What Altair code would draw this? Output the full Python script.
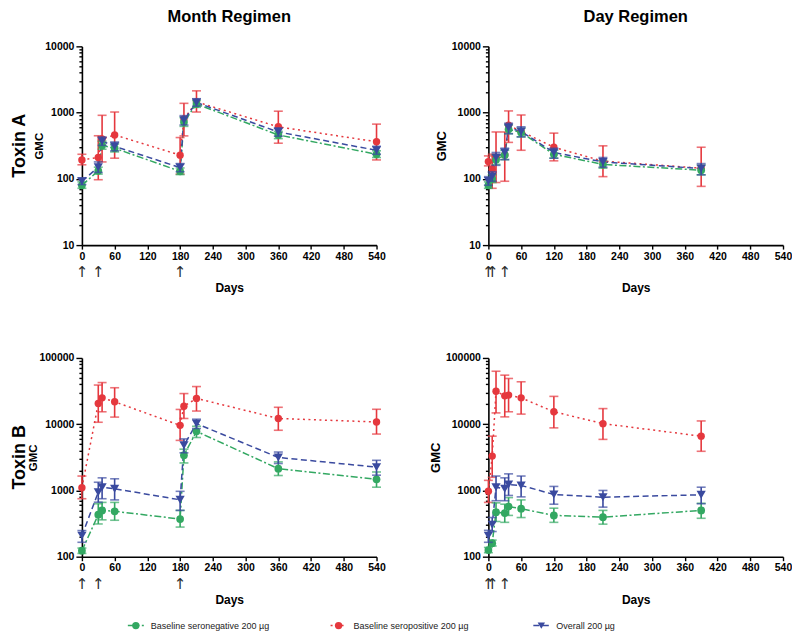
import altair as alt
import pandas as pd

SERIES = ["Baseline seronegative 200 µg", "Baseline seropositive 200 µg", "Overall 200 µg"]
COLORS = ["#33a862", "#e5383e", "#3a4a9f"]
DASHES = [[7, 2.5, 2, 2.5], [2, 3.5], [6, 3.5]]
SHAPES = ["circle", "circle", "triangle-down"]
SIZES = [60, 55, 85]
DRAW_ORDER = [1, 0, 2]

MONTH_DAYS = [0, 30, 37, 60, 180, 187, 210, 360, 540]
DAY_DAYS = [0, 7, 14, 30, 37, 60, 120, 210, 390]
MONTH_DOSES = [0, 30, 180]
DAY_DOSES = [0, 7, 30]
X_TICKS = [0, 60, 120, 180, 240, 300, 360, 420, 480, 540]

# ---- Toxin A, Month regimen
A_M_NEG = [80, 132, 320, 290, 130, 720, 1350, 460, 235]
A_M_NEG_LO = [72, 118, 280, 255, 116, 620, 1200, 405, 210]
A_M_NEG_HI = [90, 150, 370, 335, 146, 840, 1520, 520, 265]
A_M_POS = [193, 210, 400, 460, 228, 800, 1450, 610, 363]
A_M_POS_LO = [163, 97, 180, 205, 118, 445, 1020, 345, 193]
A_M_POS_HI = [235, 447, 910, 1020, 420, 1380, 2130, 1050, 670]
A_M_ALL = [92, 150, 370, 310, 148, 770, 1420, 510, 270]
A_M_ALL_LO = [82, 125, 320, 265, 128, 650, 1250, 440, 235]
A_M_ALL_HI = [103, 180, 430, 360, 170, 900, 1620, 590, 310]

# ---- Toxin A, Day regimen
A_D_NEG = [80, 100, 195, 230, 560, 500, 235, 165, 135]
A_D_NEG_LO = [72, 88, 165, 195, 480, 430, 205, 145, 115]
A_D_NEG_HI = [90, 115, 230, 270, 650, 580, 270, 190, 160]
A_D_POS = [182, 140, 210, 230, 645, 520, 300, 185, 145]
A_D_POS_LO = [157, 72, 88, 92, 355, 270, 187, 108, 77]
A_D_POS_HI = [222, 235, 510, 510, 1060, 920, 490, 315, 300]
A_D_ALL = [93, 109, 210, 250, 590, 520, 250, 180, 143]
A_D_ALL_LO = [80, 92, 160, 195, 480, 430, 205, 150, 115]
A_D_ALL_HI = [108, 128, 250, 290, 690, 610, 290, 210, 170]

# ---- Toxin B, Month regimen
B_M_NEG = [123, 430, 500, 485, 370, 3400, 7800, 2130, 1470]
B_M_NEG_LO = [112, 312, 360, 355, 280, 2600, 6300, 1680, 1120]
B_M_NEG_HI = [135, 630, 660, 660, 500, 4200, 9300, 2700, 1900]
B_M_POS = [1100, 20500, 25000, 21800, 9600, 18700, 24500, 12200, 10800]
B_M_POS_LO = [750, 10700, 15400, 12800, 5700, 12200, 15800, 8100, 7100]
B_M_POS_HI = [1650, 39000, 42500, 35500, 16700, 29000, 37000, 18000, 16800]
B_M_ALL = [208, 940, 1120, 1060, 723, 4800, 10200, 3150, 2250]
B_M_ALL_LO = [165, 665, 750, 720, 500, 3700, 8600, 2550, 1700]
B_M_ALL_HI = [248, 1330, 1550, 1500, 970, 6000, 11900, 3800, 2850]

# ---- Toxin B, Day regimen
B_D_NEG = [126, 160, 470, 455, 570, 530, 420, 395, 500]
B_D_NEG_LO = [115, 145, 340, 330, 420, 390, 330, 310, 380]
B_D_NEG_HI = [138, 178, 650, 620, 780, 720, 540, 500, 640]
B_D_POS = [975, 3300, 31500, 26800, 27500, 25000, 15400, 10200, 6600]
B_D_POS_LO = [660, 1580, 14800, 12900, 15400, 14200, 8800, 5900, 3900]
B_D_POS_HI = [1420, 6600, 63000, 55000, 49000, 43700, 26300, 17200, 11200]
B_D_ALL = [208, 305, 1120, 1060, 1230, 1190, 870, 790, 860]
B_D_ALL_LO = [165, 240, 700, 700, 840, 800, 620, 560, 630]
B_D_ALL_HI = [250, 390, 1650, 1550, 1780, 1650, 1150, 1000, 1120]

FONT = "Liberation Sans"
W, H = 295, 199


def build(days, triples):
    rows = []
    for s, (v, lo, hi) in zip(SERIES, triples):
        for d, g, l, h in zip(days, v, lo, hi):
            rows.append({"day": d, "gmc": g, "lo": l, "hi": h, "series": s})
    return pd.DataFrame(rows)


def log_ticks(e0, e1):
    return [k * 10 ** n for n in range(e0, e1) for k in range(1, 10)] + [10 ** e1]


DECADE = "abs(log(datum.value)/LN10 - round(log(datum.value)/LN10)) < 0.001"


def panel(days, triples, doses, e0, e1, gmc_size, gmc_pad, col_title=None, row_label=None):
    df = build(days, triples)
    xax = alt.Axis(values=X_TICKS, title="Days", titlePadding=21, tickSize=4,
                   labelPadding=2, labelFlush=False, titleFontSize=12)
    xs = alt.Scale(domain=[0, 540], nice=False, zero=False)
    yax = alt.Axis(values=log_ticks(e0, e1),
                   labelExpr="(" + DECADE + ") ? format(datum.value, 'd') : ''",
                   tickSize={"condition": {"test": DECADE, "value": 6}, "value": 3},
                   title="GMC", titleFontSize=gmc_size, titlePadding=gmc_pad, labelPadding=2)
    ys = alt.Scale(type="log", domain=[10 ** e0, 10 ** e1], nice=False)
    color = alt.Color("series:N", scale=alt.Scale(domain=SERIES, range=COLORS), legend=None)
    dash = alt.StrokeDash("series:N", scale=alt.Scale(domain=SERIES, range=DASHES), legend=None)
    shape = alt.Shape("series:N", scale=alt.Scale(domain=SERIES, range=SHAPES), legend=None)

    def X():
        return alt.X("day:Q", scale=xs, axis=xax)

    def Y(f):
        return alt.Y(f + ":Q", scale=ys, axis=yax)

    layers = [alt.Chart(df).mark_line(strokeWidth=1.5).encode(
        x=X(), y=Y("gmc"), color=color, strokeDash=dash)]
    for i in DRAW_ORDER:
        b = alt.Chart(df[df.series == SERIES[i]])
        layers.append(b.mark_point(filled=True, opacity=1, size=SIZES[i]).encode(
            x=X(), y=Y("gmc"), color=color, shape=shape))
        layers.append(b.mark_rule(strokeWidth=1.6).encode(
            x=X(), y=Y("lo"), y2="hi:Q", color=color))
        layers.append(b.mark_tick(orient="horizontal", size=9, thickness=1.6).encode(
            x=X(), y=Y("lo"), color=color))
        layers.append(b.mark_tick(orient="horizontal", size=9, thickness=1.6).encode(
            x=X(), y=Y("hi"), color=color))
    layers.append(alt.Chart(pd.DataFrame({"day": doses})).mark_text(
        text="↑", fontSize=15, color="#2a2a2a", font="DejaVu Sans", baseline="middle").encode(
        x=X(), y=alt.value(H + 27)))
    if row_label:
        layers.append(alt.Chart(pd.DataFrame({"t": [row_label]})).mark_text(
            angle=270, fontSize=18, fontWeight="bold", font=FONT, color="black",
            align="center", baseline="alphabetic").encode(
            text="t:N", x=alt.value(-57), y=alt.value(H / 2)))
    ch = alt.layer(*layers).properties(width=W, height=H)
    if col_title:
        ch = ch.properties(title=alt.TitleParams(col_title, anchor="middle", offset=16,
                                                 fontSize=16.5, font=FONT, fontWeight="bold"))
    return ch


pA1 = panel(MONTH_DAYS, [(A_M_NEG, A_M_NEG_LO, A_M_NEG_HI), (A_M_POS, A_M_POS_LO, A_M_POS_HI),
                         (A_M_ALL, A_M_ALL_LO, A_M_ALL_HI)], MONTH_DOSES, 1, 4, 11.5, 0,
            "Month Regimen", "Toxin A")
pA2 = panel(DAY_DAYS, [(A_D_NEG, A_D_NEG_LO, A_D_NEG_HI), (A_D_POS, A_D_POS_LO, A_D_POS_HI),
                       (A_D_ALL, A_D_ALL_LO, A_D_ALL_HI)], DAY_DOSES, 1, 4, 13, 3,
            "Day Regimen")
pB1 = panel(MONTH_DAYS, [(B_M_NEG, B_M_NEG_LO, B_M_NEG_HI), (B_M_POS, B_M_POS_LO, B_M_POS_HI),
                         (B_M_ALL, B_M_ALL_LO, B_M_ALL_HI)], MONTH_DOSES, 2, 5, 11.5, 0,
            None, "Toxin B")
pB2 = panel(DAY_DAYS, [(B_D_NEG, B_D_NEG_LO, B_D_NEG_HI), (B_D_POS, B_D_POS_LO, B_D_POS_HI),
                       (B_D_ALL, B_D_ALL_LO, B_D_ALL_HI)], DAY_DOSES, 2, 5, 13, 3)

grid = alt.concat(pA1, pA2, pB1, pB2, columns=2, spacing={"row": 59, "column": 43}, align="each")

# ---- legend
leg_df = pd.DataFrame({"series": SERIES})
lx = alt.X("series:N", scale=alt.Scale(domain=SERIES, type="point", range=[54, 460], padding=0),
           axis=None)
lcolor = alt.Color("series:N", scale=alt.Scale(domain=SERIES, range=COLORS), legend=None)
ldash = alt.StrokeDash("series:N", scale=alt.Scale(domain=SERIES, range=DASHES), legend=None)
lshape = alt.Shape("series:N", scale=alt.Scale(domain=SERIES, range=SHAPES), legend=None)
lbase = alt.Chart(leg_df)
legend = alt.layer(
    lbase.mark_rule(strokeWidth=1.5, xOffset=-8, x2Offset=8).encode(
        x=lx, x2="series:N", y=alt.value(5), color=lcolor, strokeDash=ldash),
    lbase.mark_point(filled=True, opacity=1, size=55).encode(
        x=lx, y=alt.value(5), color=lcolor, shape=lshape),
    lbase.mark_text(align="left", dx=15, fontSize=9, font=FONT, color="#222").encode(
        x=lx, y=alt.value(5), text="series:N"),
).properties(width=560, height=10)

chart = alt.vconcat(grid, legend, spacing=15).properties(
    padding={"left": 3, "top": 0, "right": 0, "bottom": 0}
).configure_axis(
    labelFont=FONT, labelFontWeight="bold", labelFontSize=10.5, labelColor="black",
    titleFont=FONT, titleFontWeight="bold", titleColor="black",
    domainColor="black", domainWidth=1.6, tickColor="black", tickWidth=1.4, grid=False
).configure_view(strokeWidth=0)

chart.save("out.html", embed_options={"renderer": "svg", "actions": False})
